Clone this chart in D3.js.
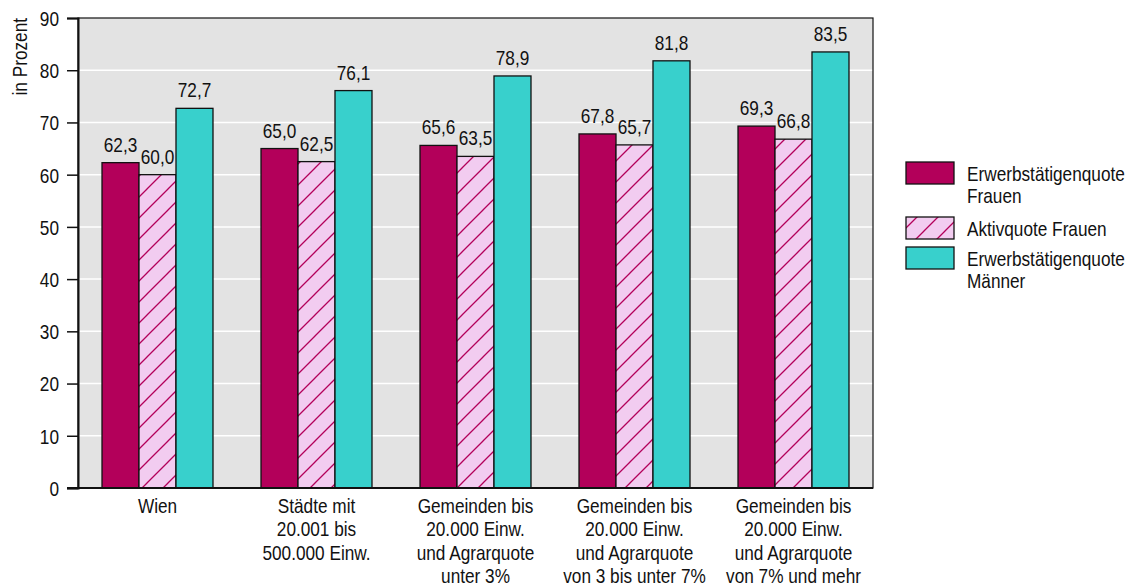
<!DOCTYPE html>
<html><head><meta charset="utf-8">
<script src="https://cdn.jsdelivr.net/npm/d3@7/dist/d3.min.js"></script>
<style>
body{margin:0;background:#fff;}
text{font-family:"Liberation Sans Narrow","Arial Narrow","Liberation Sans",Arial,sans-serif;fill:#111;}
</style></head><body>
<svg id="c" width="1132" height="587"></svg>
<script>
const categories = [
  ["Wien"],
  ["Städte mit","20.001 bis","500.000 Einw."],
  ["Gemeinden bis","20.000 Einw.","und Agrarquote","unter 3%"],
  ["Gemeinden bis","20.000 Einw.","und Agrarquote","von 3 bis unter 7%"],
  ["Gemeinden bis","20.000 Einw.","und Agrarquote","von 7% und mehr"]
];
const seriesNames = [["Erwerbstätigenquote","Frauen"],["Aktivquote Frauen"],["Erwerbstätigenquote","Männer"]];
const erwFrauen = [62.3, 65.0, 65.6, 67.8, 69.3];
const aktivFrauen = [60.0, 62.5, 63.5, 65.7, 66.8];
const erwMaenner = [72.7, 76.1, 78.9, 81.8, 83.5];
const yTicks = [0,10,20,30,40,50,60,70,80,90];
const series = [erwFrauen, aktivFrauen, erwMaenner];
const fills = ["#B3005A", "url(#hatch)", "#38D0CC"];

const FS = 21, SX = 0.82;
const svg = d3.select("#c");
const L = 78, R = 873, T = 18, B = 488;

function addText(parent, x, y, str, anchor){
  return parent.append("text").attr("transform",`translate(${x},${y}) scale(${SX},1)`)
    .attr("text-anchor",anchor||"start").attr("font-size",FS).text(str);
}

const defs = svg.append("defs");
function hatch(id, s){
  const p = defs.append("pattern").attr("id",id).attr("patternUnits","userSpaceOnUse")
    .attr("width",s).attr("height",s);
  p.append("rect").attr("width",s).attr("height",s).attr("fill","#F2CCF0");
  p.append("path").attr("d",`M0,${s} L${s},0 M-5,5 L5,-5 M${s-5},${s+5} L${s+5},${s-5}`)
    .attr("stroke","#B3005A").attr("stroke-width",1.3);
}
hatch("hatch", 21);
hatch("hatchL", 21);

const x0 = d3.scaleBand().domain(d3.range(categories.length)).range([L,R]).paddingInner(0.302).paddingOuter(0.151);
const x1 = d3.scaleBand().domain(d3.range(3)).range([0,x0.bandwidth()]);
const y = d3.scaleLinear().domain([0,90]).range([B,T]);

svg.append("rect").attr("x",L).attr("y",T).attr("width",R-L).attr("height",B-T).attr("fill","#E3E3E3");
svg.append("g").selectAll("line").data(yTicks.slice(1,-1)).join("line")
  .attr("x1",L).attr("x2",R).attr("y1",d=>y(d)).attr("y2",d=>y(d)).attr("stroke","#fff").attr("stroke-width",1.5);
svg.append("rect").attr("x",L).attr("y",T).attr("width",R-L).attr("height",B-T).attr("fill","none").attr("stroke","#111").attr("stroke-width",1.2);

const g = svg.append("g");
series.forEach((s,si)=>{
  g.append("g").selectAll("rect").data(s).join("rect")
    .attr("x",(d,i)=>x0(i)+x1(si)).attr("y",d=>y(d)).attr("width",x1.bandwidth()).attr("height",d=>B-y(d))
    .attr("fill",fills[si]).attr("stroke","#111").attr("stroke-width",1.3);
  const lg = g.append("g");
  s.forEach((d,i)=>addText(lg, x0(i)+x1(si)+x1.bandwidth()/2, y(d)-11, d.toFixed(1).replace(".",","), "middle"));
});

// y axis
const yAxis = svg.append("g").attr("transform",`translate(${L},0)`)
  .call(d3.axisLeft(y).tickValues(yTicks).tickSize(11).tickPadding(8).tickFormat(d=>d));
yAxis.select(".domain").attr("stroke","#111").attr("stroke-width",2);
yAxis.selectAll(".tick line").attr("stroke","#111").attr("stroke-width",1.5);
yAxis.selectAll(".tick text").attr("font-size",FS).attr("font-family",null).attr("fill","#111")
  .attr("x",0).attr("dy","0.35em").attr("transform",`translate(-19,0) scale(${SX},1)`);
svg.append("line").attr("x1",L-11).attr("x2",R).attr("y1",B).attr("y2",B).attr("stroke","#111").attr("stroke-width",2);

svg.append("text").attr("transform",`translate(27,18) rotate(-90) scale(${SX},1)`).attr("text-anchor","end")
  .attr("font-size",FS).text("in Prozent");

// x labels
const xl = svg.append("g");
categories.forEach((lines,i)=>{
  lines.forEach((ln,j)=>addText(xl, x0(i)+x0.bandwidth()/2, 513+j*23.3, ln, "middle"));
});

// legend
const lgd = svg.append("g");
const legY = [162, 217, 247];
const legFill = ["#B3005A","url(#hatchL)","#38D0CC"];
seriesNames.forEach((nm,i)=>{
  lgd.append("rect").attr("x",906).attr("y",legY[i]).attr("width",48).attr("height",22)
    .attr("fill",legFill[i]).attr("stroke","#111").attr("stroke-width",1.3);
  nm.forEach((ln,j)=>addText(lgd, 967, legY[i]+18.5+j*22.5, ln, "start"));
});
</script></body></html>
